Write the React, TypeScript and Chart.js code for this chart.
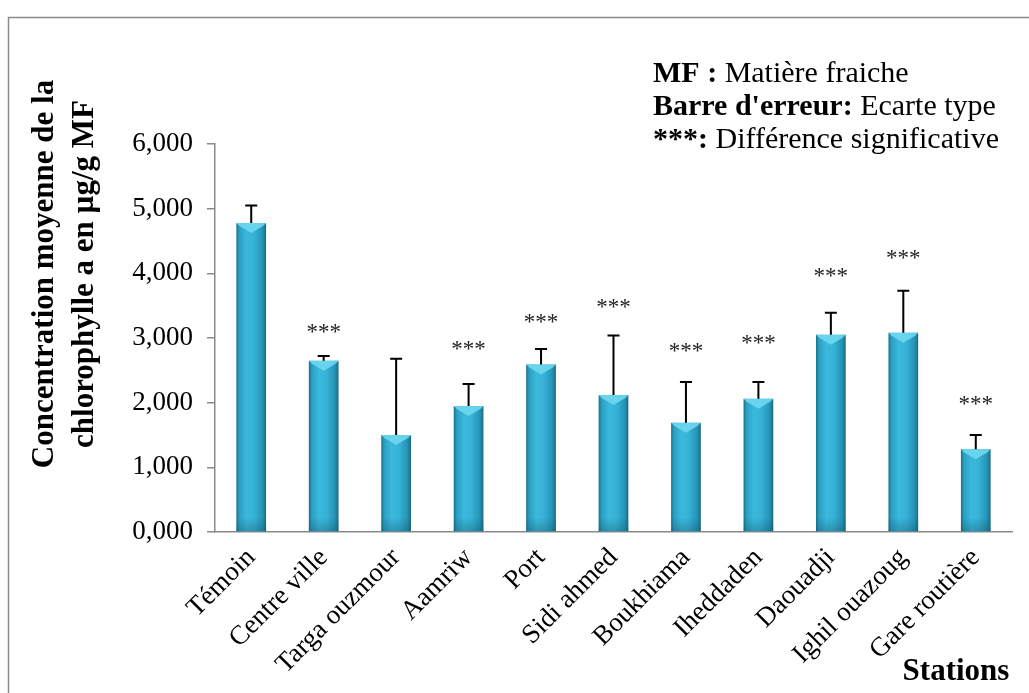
import React, { useEffect, useRef } from 'react';
import { Chart, registerables } from 'chart.js';

Chart.register(...registerables);

const categories = [
  'Témoin', 'Centre ville', 'Targa ouzmour', 'Aamriw', 'Port', 'Sidi ahmed',
  'Boukhiama', 'Iheddaden', 'Daouadji', 'Ighil ouazoug', 'Gare routière',
];
const means = [4.78, 2.65, 1.50, 1.95, 2.59, 2.12, 1.69, 2.06, 3.05, 3.08, 1.28];
const stdDevs = [0.27, 0.07, 1.18, 0.34, 0.24, 0.92, 0.63, 0.26, 0.34, 0.65, 0.22];
const significant = [false, true, false, true, true, true, true, true, true, true, true];
const starLevels = [null, 3.15, null, 2.89, 3.31, 3.54, 2.86, 2.99, 4.02, 4.30, 2.04];
const yTicks = [0, 1, 2, 3, 4, 5, 6];
const legendLines: [string, string][] = [
  ['MF :', ' Matière fraiche'],
  ["Barre d'erreur:", ' Ecarte type'],
  ['***:', ' Différence significative'],
];
const yTitleLines = ['Concentration moyenne de la', 'chlorophylle a en µg/g MF'];
const xTitle = 'Stations';

const SERIF = '"Liberation Serif", "Times New Roman", serif';
const BAR_FRACTION = 0.41;

const decorPlugin = {
  id: 'decor',
  beforeDraw(chart: any) {
    const ctx = chart.ctx;
    ctx.save();
    ctx.fillStyle = '#ffffff';
    ctx.fillRect(0, 0, chart.width, chart.height);
    ctx.strokeStyle = '#8a8a8a';
    ctx.lineWidth = 1.5;
    ctx.strokeRect(8.5, 17.5, chart.width + 20, chart.height + 20);
    ctx.restore();
  },
  afterDatasetsDraw(chart: any) {
    const ctx = chart.ctx;
    const meta = chart.getDatasetMeta(0);
    const ys = chart.scales.y;
    ctx.save();
    meta.data.forEach((el: any, i: number) => {
      const half = el.width / 2;
      const left = el.x - half;
      const right = el.x + half;
      const top = el.y;
      // top bevel chevron
      ctx.beginPath();
      ctx.moveTo(left, top);
      ctx.lineTo(right, top);
      ctx.lineTo(right - 3, top + 3);
      ctx.lineTo(el.x, top + 10);
      ctx.lineTo(left + 3, top + 3);
      ctx.closePath();
      ctx.fillStyle = 'rgba(110, 215, 240, 0.9)';
      ctx.fill();
      // bottom darkening
      const g = ctx.createLinearGradient(0, el.base - 14, 0, el.base);
      g.addColorStop(0, 'rgba(20,80,100,0)');
      g.addColorStop(1, 'rgba(20,80,100,0.35)');
      ctx.fillStyle = g;
      ctx.fillRect(left, el.base - 14, el.width, 14);

      // error bar
      const yTop = ys.getPixelForValue(means[i] + stdDevs[i]);
      ctx.strokeStyle = '#000';
      ctx.lineWidth = 2;
      ctx.beginPath();
      ctx.moveTo(el.x, top);
      ctx.lineTo(el.x, yTop);
      ctx.moveTo(el.x - 6, yTop);
      ctx.lineTo(el.x + 6, yTop);
      ctx.stroke();

      // significance stars
      if (significant[i] && starLevels[i] != null) {
        ctx.fillStyle = '#222';
        ctx.font = `23px ${SERIF}`;
        ctx.textAlign = 'center';
        ctx.textBaseline = 'middle';
        ctx.fillText('***', el.x, ys.getPixelForValue(starLevels[i] as number) + 5);
      }
    });
    ctx.restore();
  },
  afterDraw(chart: any) {
    const ctx = chart.ctx;
    ctx.save();
    ctx.fillStyle = '#000';
    ctx.textBaseline = 'alphabetic';
    ctx.textAlign = 'left';
    const baselines = [82, 115, 148];
    legendLines.forEach(([b, r], k) => {
      ctx.font = `bold 30px ${SERIF}`;
      ctx.fillText(b, 653, baselines[k]);
      const w = ctx.measureText(b).width;
      ctx.font = `30px ${SERIF}`;
      ctx.fillText(r, 653 + w, baselines[k]);
    });
    // y title
    ctx.font = `bold 31px ${SERIF}`;
    ctx.textAlign = 'center';
    ctx.textBaseline = 'middle';
    const xs = [45, 85];
    yTitleLines.forEach((line, k) => {
      ctx.save();
      ctx.translate(xs[k], 274);
      ctx.rotate(-Math.PI / 2);
      ctx.fillText(line, 0, 0);
      ctx.restore();
    });
    // x title
    ctx.font = `bold 31px ${SERIF}`;
    ctx.fillText(xTitle, 956, 672);
    ctx.restore();
  },
};

export default function App() {
  const ref = useRef<HTMLCanvasElement>(null);
  useEffect(() => {
    if (!ref.current) return;
    const chart = new Chart(ref.current, {
      type: 'bar',
      data: {
        labels: categories,
        datasets: [
          {
            data: means,
            barPercentage: BAR_FRACTION,
            categoryPercentage: 1,
            borderWidth: 0,
            backgroundColor: (c: any) => {
              const xs = c.chart.scales?.x;
              if (!xs || c.dataIndex == null || !isFinite(xs.width)) return '#2fa9cd';
              const cx = xs.getPixelForValue(c.dataIndex);
              const half = (xs.width / categories.length) * BAR_FRACTION / 2;
              const g = c.chart.ctx.createLinearGradient(cx - half, 0, cx + half, 0);
              g.addColorStop(0, '#1b6f88');
              g.addColorStop(0.1, '#2a9fc2');
              g.addColorStop(0.35, '#3bb9dc');
              g.addColorStop(0.6, '#36b2d6');
              g.addColorStop(0.88, '#2593b6');
              g.addColorStop(1, '#1a6a82');
              return g;
            },
          },
        ],
      },
      options: {
        responsive: false,
        animation: false,
        layout: { padding: { top: 144, right: 17, left: 0, bottom: 0 } },
        plugins: { legend: { display: false }, tooltip: { enabled: false }, title: { display: false } },
        scales: {
          x: {
            grid: { display: false },
            border: { display: true, color: '#8a8a8a', width: 1.5 },
            ticks: {
              color: '#000',
              font: { family: SERIF, size: 27 },
              maxRotation: 45,
              minRotation: 45,
              autoSkip: false,
              padding: 2,
            },
            afterFit: (s: any) => { s.height = 161; },
          },
          y: {
            min: 0,
            max: 6,
            afterBuildTicks: (s: any) => { s.ticks = yTicks.map((v) => ({ value: v })); },
            ticks: {
              color: '#000',
              font: { family: SERIF, size: 27 },
              padding: 14,
              callback: (v: any) => Number(v).toFixed(3).replace('.', ','),
            },
            grid: { drawOnChartArea: false, drawTicks: true, tickLength: 8, color: '#8a8a8a', lineWidth: 1.5 },
            border: { display: true, color: '#8a8a8a', width: 1.5 },
            afterFit: (s: any) => { s.width = 215; },
          },
        },
      },
      plugins: [decorPlugin],
    });
    return () => chart.destroy();
  }, []);
  return (
    <div style={{ position: 'absolute', left: 0, top: 0, width: 1029, height: 693, background: '#fff' }}>
      <canvas ref={ref} width={1029} height={693} style={{ display: 'block' }} />
    </div>
  );
}
